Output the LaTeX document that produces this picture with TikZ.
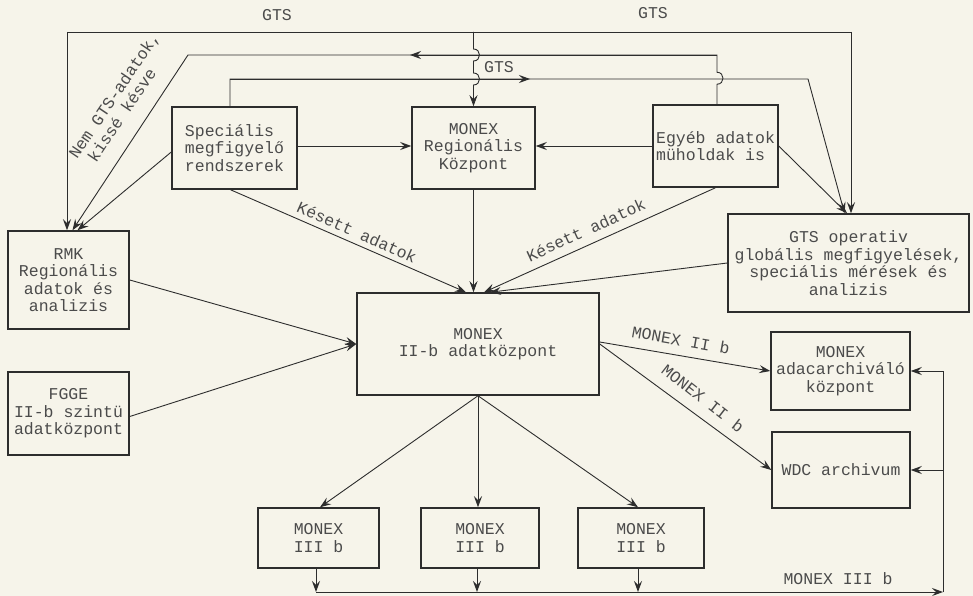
\documentclass[tikz,border=0pt]{standalone}
\usepackage{fontspec}
\setmainfont{Liberation Mono}
\usetikzlibrary{arrows.meta,calc}
\definecolor{bg}{RGB}{246,244,234}
\definecolor{ink}{RGB}{45,45,45}
\definecolor{txt}{RGB}{75,75,75}
\begin{document}
\begin{tikzpicture}[x=1pt,y=-1pt,
  box/.style={draw=ink, line width=1.5pt, inner sep=0pt, text=txt,
    font=\fontsize{16.5}{17.5}\selectfont, align=center},
  conn/.style={draw=ink, line width=0.9pt},
  arr/.style={-{Stealth[length=11pt,width=8pt,inset=4pt]}},
  lbl/.style={text=txt, font=\fontsize{16.5}{17.5}\selectfont, inner sep=0pt}
]
\fill[bg] (0,0) rectangle (973,596);
\useasboundingbox (0,0) rectangle (973,596);

% boxes
\node[box, minimum width=125pt, minimum height=82pt, align=left] (spec) at (234.5,148) {Speciális\\megfigyelő\\rendszerek};
\node[box, minimum width=123pt, minimum height=82pt] (reg) at (473.5,148) {MONEX\\Regionális\\Központ};
\node[box, minimum width=125pt, minimum height=82pt, align=left] (egy) at (715.5,146) {Egyéb adatok\\müholdak is};
\node[box, minimum width=241pt, minimum height=98pt] (gtsop) at (848.5,263) {GTS operativ\\globális megfigyelések,\\speciális mérések és\\analizis};
\node[box, minimum width=121pt, minimum height=98pt] (rmk) at (68.5,280) {RMK\\Regionális\\adatok és\\analizis};
\node[box, minimum width=121pt, minimum height=83pt] (fgge) at (68.5,413.5) {FGGE\\II-b szintü\\adatközpont};
\node[box, minimum width=242pt, minimum height=102pt] (ii) at (478,344) {MONEX\\II-b adatközpont};
\node[box, minimum width=139pt, minimum height=78pt] (arch) at (840.5,371) {MONEX\\adacarchiváló\\központ};
\node[box, minimum width=138pt, minimum height=76pt] (wdc) at (841,470) {WDC archivum};
\node[box, minimum width=121pt, minimum height=60pt] (m1) at (318.5,538) {MONEX\\III b};
\node[box, minimum width=118pt, minimum height=60pt] (m2) at (480,538) {MONEX\\III b};
\node[box, minimum width=126pt, minimum height=60pt] (m3) at (641,538) {MONEX\\III b};

% top GTS line
\coordinate (tl) at (67,32);
\coordinate (tm) at (473.5,32);
\coordinate (tr) at (851,32);
\draw[conn] (tl) -- (tr);
\draw[conn,arr] (tl) -- (tl |- rmk.north);
\draw[conn,arr] (tr) -- (tr |- gtsop.north);
\draw[conn,arr] (tm) -- ++(0,17) .. controls ++(8,0) and ++(8,0) .. ++(0,12) -- ++(0,12)
   .. controls ++(8,0) and ++(8,0) .. ++(0,12) -- (reg.north);
\node[lbl] (gts1) at (277,15) {GTS};
\node[lbl] (gts2) at (653,13) {GTS};

% Egyeb -> RMK (Nem GTS-adatok)
\coordinate (ea) at (717,55);
\coordinate (eb) at (188,55);
\coordinate (em) at (410,55);
\draw[conn,arr] (egy.north -| ea) -- ++(0,-20) .. controls ++(8,0) and ++(8,0) .. ++(0,-12) -- (ea) -- (eb) -- ([xshift=4pt]rmk.north);
\draw[conn,arr] (ea) -- (em);
\node[lbl, rotate=56, align=left] (nem) at (121,100) {Nem GTS-adatok,\\\hspace*{8pt}kissé késve};

% Specialis -> GTS operativ
\coordinate (sa) at (230,79);
\coordinate (sb) at (808,79);
\coordinate (sm) at (530,79);
\draw[conn,arr] (spec.north -| sa) -- (sa) -- (sb) -- ([xshift=-4pt]gtsop.north);
\draw[conn,arr] (sa) -- (sm);
\node[lbl] (gts3) at (499,67) {GTS};

% horizontal into Regionalis
\draw[conn,arr] ([yshift=2pt]spec.east) -- ([yshift=2pt]reg.west);
\draw[conn,arr] (egy.west) -- (egy.west -| reg.east);

% to RMK from Specialis
\draw[conn,arr] ([yshift=-4pt]spec.west) -- ([xshift=9pt]rmk.north);

% into II-b
\draw[conn,arr] ([xshift=-4pt]spec.south) -- ([xshift=-12pt]ii.north);
\draw[conn,arr] (reg.south) -- (reg.south |- ii.north);
\draw[conn,arr] (egy.south) -- ([xshift=6pt]ii.north);
\draw[conn,arr] (gtsop.west) -- ([xshift=12pt]ii.north);
\draw[conn,arr] (egy.east) -- ([xshift=-1.5pt]gtsop.north);
\draw[conn,arr] (rmk.east) -- (ii.west);
\draw[conn,arr] ([yshift=-3pt]fgge.east) -- (ii.west);
\node[lbl, rotate=-23.8] (kes1) at (357,232) {Késett adatok};
\node[lbl, rotate=24.6] (kes2) at (586,230) {Késett adatok};

% out of II-b
\draw[conn,arr] ([yshift=2pt]ii.east) -- (arch.west);
\draw[conn,arr] (ii.east) -- (wdc.west);
\node[lbl, rotate=-10] (mx1) at (681,340) {MONEX II b};
\node[lbl, rotate=-38] (mx2) at (703,398) {MONEX II b};

\draw[conn,arr] (ii.south) -- ([xshift=1.5pt]m1.north);
\draw[conn,arr] (ii.south) -- (ii.south |- m2.north);
\draw[conn,arr] (ii.south) -- ([xshift=-3pt]m3.north);

% bottom collector
\coordinate (bl) at (316,592);
\coordinate (br) at (943,592);
\coordinate (ar) at (943,371);
\draw[conn,arr] (m1.south -| bl) -- (bl);
\draw[conn,arr] (m2.south -| 477,0) -- (477,592);
\draw[conn,arr] (m3.south -| 638,0) -- (638,592);
\draw[conn,arr] (bl) -- (br);
\draw[conn] (br) -- (ar);
\draw[conn,arr] (ar) -- (arch.east);
\draw[conn,arr] (wdc.east -| ar) -- (wdc.east);
\node[lbl] (mx3) at (838,579) {MONEX III b};
\end{tikzpicture}
\end{document}
